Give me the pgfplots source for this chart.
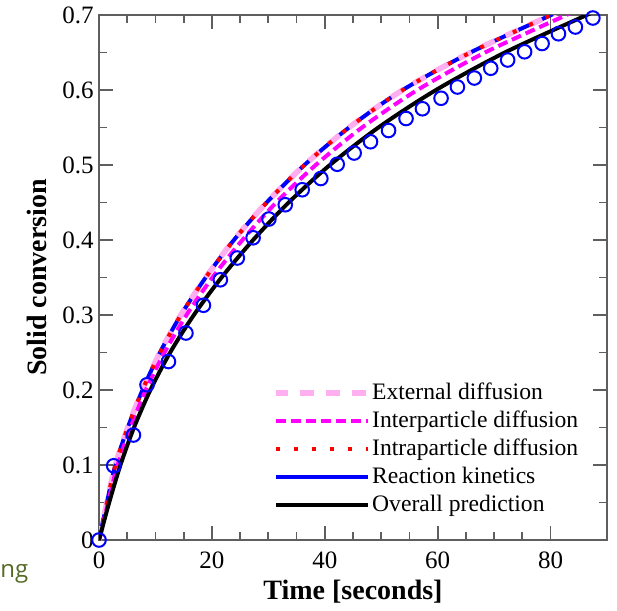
\documentclass[border=0pt]{standalone}
\usepackage{fontspec}
\setmainfont{Liberation Serif}
\newfontfamily\slidefont{Open Sans}
\usepackage{pgfplots}
\usepackage{pgfplotstable}
\pgfplotsset{compat=1.18}

\definecolor{extpink}{RGB}{255,175,240}
\definecolor{mag}{RGB}{255,0,255}
\definecolor{rd}{RGB}{255,0,0}
\definecolor{bl}{RGB}{0,0,255}
\definecolor{olivetext}{RGB}{85,105,40}
\definecolor{frame}{RGB}{95,95,95}

% model curves (time, conversion)
\pgfplotstableread{
t X
0 0
1.4 0.05
2.9 0.10
5.1 0.15
7.7 0.20
10.8 0.25
14.5 0.30
18.9 0.35
23.9 0.40
29.7 0.45
36.4 0.50
44.3 0.55
53.8 0.60
65.8 0.65
80.1 0.70
85.8 0.72
}\fastcurve

\pgfplotstableread{
t X
0 0
1.6 0.05
3.3 0.10
5.6 0.15
8.3 0.20
11.6 0.25
15.5 0.30
20.1 0.35
25.4 0.40
31.4 0.45
38.4 0.50
46.6 0.55
56.4 0.60
68.4 0.65
82.8 0.70
88.5 0.72
}\intercurve

\pgfplotstableread{
t X
0 0
1.8 0.05
3.8 0.10
6.2 0.15
9.1 0.20
12.6 0.25
16.8 0.30
21.7 0.35
27.3 0.40
33.6 0.45
40.9 0.50
49.5 0.55
59.7 0.60
71.9 0.65
86.4 0.70
92.2 0.72
}\overall

% measured points
\pgfplotstableread{
t X
0 0
2.6 0.099
6.1 0.140
8.5 0.207
12.3 0.238
15.4 0.276
18.5 0.313
21.5 0.347
24.5 0.376
27.3 0.403
30.1 0.428
33.0 0.447
36.0 0.467
39.3 0.482
42.2 0.501
45.2 0.516
48.1 0.531
51.3 0.546
54.4 0.562
57.3 0.575
60.6 0.589
63.5 0.604
66.5 0.616
69.4 0.629
72.4 0.640
75.4 0.651
78.5 0.662
81.4 0.675
84.4 0.684
87.5 0.696
}\measured

\begin{document}
\begin{tikzpicture}
\begin{axis}[
    scale only axis,
    width=254pt, height=262.5pt,
    xmin=0, xmax=90, ymin=0, ymax=0.7,
    xtick={0,20,40,60,80},
    xticklabels={0,20,40,60,80},
    ytick={0,0.1,0.2,0.3,0.4,0.5,0.6,0.7},
    yticklabels={0,0.1,0.2,0.3,0.4,0.5,0.6,0.7},
    minor x tick num=3,
    minor y tick num=1,
    tick align=inside,
    major tick length=7pt,
    minor tick length=3.8pt,
    axis line style={frame, line width=1pt},
    every tick/.style={frame, line width=0.9pt},
    tick label style={font=\rmfamily\fontsize{12.5}{14}\selectfont},
    yticklabel style={inner sep=2.5pt},
    xticklabel style={yshift=-2.5pt},
    xlabel={Time [seconds]},
    ylabel={Solid conversion},
    label style={font=\rmfamily\fontsize{14}{16}\selectfont\bfseries},
    xlabel style={at={(rel axis cs:0.5,-0.099)}, anchor=center},
    ylabel style={at={(rel axis cs:-0.122,0.5)}, anchor=center},
    legend cell align=left,
    legend image code/.code={\draw[#1] (0pt,0pt) -- (34.5pt,0pt); \path (0pt,0pt) -- (46pt,0pt);},
    legend style={at={(rel axis cs:0.3425,0.302)}, anchor=north west,
        draw=none, fill=none, inner sep=0pt, row sep=3pt,
        font=\rmfamily\fontsize{11.8}{13}\selectfont,
        nodes={inner sep=0.6pt}},
]
\addlegendimage{extpink, line width=2.8pt, dash pattern=on 7pt off 6pt, dash phase=1pt}
\addlegendimage{mag, line width=2pt, dash pattern=on 5pt off 2.5pt}
\addlegendimage{rd, line width=2pt, dash pattern=on 2pt off 7pt}
\addlegendimage{bl, line width=2pt}
\addlegendimage{black, line width=2pt}
\legend{External diffusion, Interparticle diffusion, Intraparticle diffusion, Reaction kinetics, Overall prediction}

\addplot[bl, line width=2pt, smooth, forget plot] table {\fastcurve};
\addplot[extpink, line width=2.8pt, dash pattern=on 7pt off 6pt, smooth, forget plot] table {\fastcurve};
\addplot[mag, line width=2pt, dash pattern=on 5pt off 2.5pt, smooth, forget plot] table {\intercurve};
\addplot[rd, line width=2pt, dash pattern=on 2pt off 7pt, smooth, forget plot] table {\fastcurve};
\addplot[black, line width=2pt, smooth, forget plot] table {\overall};
\addplot[bl, only marks, mark=o, mark size=3.4pt, mark options={line width=1pt}, forget plot] table {\measured};

\coordinate (bbSW) at (rel axis cs:-0.1949,-0.1295);
\coordinate (bbNE) at (rel axis cs:1.0197,1.0286);
\coordinate (ngpos) at (rel axis cs:-0.1949,-0.072);
\end{axis}
\path (bbSW) rectangle (bbNE);
\node[anchor=base west, inner sep=0pt, text=olivetext, font=\slidefont\fontsize{12}{14}\selectfont] at (ngpos) {ng};
\end{tikzpicture}
\end{document}
